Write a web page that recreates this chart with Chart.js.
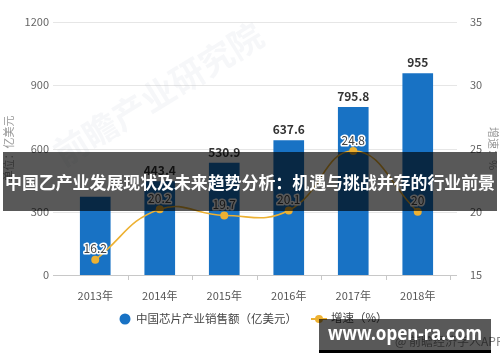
<!DOCTYPE html>
<html>
<head>
<meta charset="utf-8">
<script src="https://cdn.jsdelivr.net/npm/chart.js@4.4.1/dist/chart.umd.min.js"></script>
<style>
html, body { margin: 0; padding: 0; background: #fff; }
#wrap { width: 500px; height: 362px; position: relative; }
</style>
</head>
<body>
<div id="wrap"><canvas id="grafica"></canvas></div>
<script>
// datos de la grafica
const anios = ['2013年', '2014年', '2015年', '2016年', '2017年', '2018年'];
const ventas = [369, 443.4, 530.9, 637.6, 795.8, 955];
const ventasEtiquetas = ['', '443.4', '530.9', '637.6', '795.8', '955'];
const crecimiento = [16.2, 20.2, 19.7, 20.1, 24.8, 20];
const ticksIzq = [0, 300, 600, 900, 1200];
const ticksDer = [15, 20, 25, 30, 35];
const titulo = '中国乙产业发展现状及未来趋势分析：机遇与挑战并存的行业前景';
const nombreVentas = '中国芯片产业销售额（亿美元）';
const nombreCrec = '增速（%）';

const azul = '#1872c4';
const oro = '#edb132';
const fuente = '"Noto Sans CJK SC", "Noto Sans", sans-serif';

Chart.defaults.font.family = fuente;
Chart.defaults.color = '#666';

const extras = {
    id: 'extras',
    beforeDatasetsDraw(chart) {
        const ctx = chart.ctx;
        const a = chart.chartArea;
        const y = chart.scales.y;
        ctx.save();
        // lineas horizontales
        ticksIzq.forEach(function(v) {
            const py = Math.round(y.getPixelForValue(v)) + 0.5;
            ctx.strokeStyle = v === 0 ? '#c8c8c8' : '#e6e6e6';
            ctx.lineWidth = 1;
            ctx.beginPath();
            ctx.moveTo(a.left - 10, py);
            ctx.lineTo(a.right + 7, py);
            ctx.stroke();
        });
        // marcas entre categorias
        const x = chart.scales.x;
        const paso = x.getPixelForValue(1) - x.getPixelForValue(0);
        ctx.strokeStyle = '#c8c8c8';
        for (let i = 1; i <= anios.length; i++) {
            const px = Math.round(x.getPixelForValue(i) - paso / 2) + 0.5;
            ctx.beginPath();
            ctx.moveTo(px, a.bottom);
            ctx.lineTo(px, a.bottom + 5);
            ctx.stroke();
        }
        // marca de agua tenue
        ctx.fillStyle = 'rgba(180,190,205,0.12)';
        ctx.font = 'bold 34px ' + fuente;
        ctx.translate(165, 105);
        ctx.rotate(-0.55);
        ctx.textAlign = 'center';
        ctx.fillText('前瞻产业研究院', 0, 0);
        ctx.restore();
    },
    afterDatasetsDraw(chart) {
        const ctx = chart.ctx;
        ctx.save();
        ctx.textAlign = 'center';
        ctx.textBaseline = 'middle';
        // etiquetas de barras
        const barras = chart.getDatasetMeta(0).data;
        ctx.font = 'bold 12px ' + fuente;
        ctx.fillStyle = '#333';
        barras.forEach(function(b, i) {
            if (ventasEtiquetas[i]) ctx.fillText(ventasEtiquetas[i], b.x, b.y - 11);
        });
        // etiquetas de la linea
        const puntos = chart.getDatasetMeta(1).data;
        ctx.font = '12px ' + fuente;
        ctx.lineWidth = 3;
        ctx.strokeStyle = '#fff';
        ctx.lineJoin = 'round';
        puntos.forEach(function(p, i) {
            const t = String(crecimiento[i]);
            ctx.strokeText(t, p.x, p.y - 11);
            ctx.fillStyle = '#444';
            ctx.fillText(t, p.x, p.y - 11);
        });
        ctx.restore();
    },
    afterDraw(chart) {
        const ctx = chart.ctx;
        ctx.save();
        // leyenda
        ctx.textBaseline = 'middle';
        ctx.font = '11.5px ' + fuente;
        ctx.fillStyle = azul;
        ctx.beginPath();
        ctx.arc(125, 319, 5.5, 0, Math.PI * 2);
        ctx.fill();
        ctx.fillStyle = '#444';
        ctx.fillText(nombreVentas, 136, 319);
        ctx.strokeStyle = oro;
        ctx.lineWidth = 2;
        ctx.beginPath();
        ctx.moveTo(311, 319);
        ctx.lineTo(327, 319);
        ctx.stroke();
        ctx.fillStyle = oro;
        ctx.beginPath();
        ctx.arc(319, 319, 4, 0, Math.PI * 2);
        ctx.fill();
        ctx.fillStyle = '#444';
        ctx.fillText(nombreCrec, 331, 318);
        // fuente original detras del sello
        ctx.fillStyle = '#888';
        ctx.font = '12px ' + fuente;
        ctx.fillText('@ 前瞻经济学人APP', 395, 341);
        // banda del titulo
        ctx.fillStyle = 'rgba(0,0,0,0.65)';
        ctx.fillRect(3, 152, 494, 59);
        ctx.fillStyle = '#fff';
        ctx.font = 'bold 17px ' + fuente;
        ctx.textAlign = 'center';
        ctx.fillText(titulo, 250, 183, 490);
        // sello del sitio
        ctx.fillStyle = 'rgba(0,0,0,0.65)';
        ctx.fillRect(319, 319, 172, 32);
        ctx.fillStyle = '#000';
        ctx.fillRect(319, 350, 172, 3);
        ctx.fillStyle = '#fff';
        ctx.font = 'bold 19px "Noto Sans", sans-serif';
        ctx.fillText('www.open-ra.com', 405, 335, 154);
        ctx.restore();
    }
};

new Chart(document.getElementById('grafica'), {
    type: 'bar',
    data: {
        labels: anios,
        datasets: [{
            label: nombreVentas,
            data: ventas,
            backgroundColor: azul,
            barThickness: 30,
            yAxisID: 'y',
            order: 1
        }, {
            type: 'line',
            label: nombreCrec,
            data: crecimiento,
            borderColor: oro,
            backgroundColor: oro,
            borderWidth: 1.6,
            pointRadius: 4,
            pointBorderWidth: 0,
            tension: 0.45,
            yAxisID: 'y1',
            order: 0
        }]
    },
    options: {
        responsive: true,
        maintainAspectRatio: false,
        animation: false,
        layout: { padding: { top: 22, left: 0, right: 0, bottom: 0 } },
        plugins: { legend: { display: false }, tooltip: { enabled: false } },
        scales: {
            x: {
                grid: { display: false },
                border: { display: false },
                ticks: { font: { size: 11 }, color: '#555', padding: 6 },
                afterFit: function(s) { s.height = 87; }
            },
            y: {
                position: 'left',
                min: 0, max: 1200,
                afterBuildTicks: function(s) { s.ticks = ticksIzq.map(v => ({ value: v })); },
                grid: { display: false },
                border: { display: false },
                ticks: { font: { size: 11 }, color: '#666', padding: 6, callback: v => String(v) },
                title: { display: true, text: '单位：亿美元', color: '#999', font: { size: 11 }, padding: 2 },
                afterFit: function(s) { s.width = 63; }
            },
            y1: {
                position: 'right',
                min: 15, max: 35,
                afterBuildTicks: function(s) { s.ticks = ticksDer.map(v => ({ value: v })); },
                grid: { display: false },
                border: { display: false },
                ticks: { font: { size: 11 }, color: '#666', padding: 12, callback: v => String(v) },
                title: { display: true, text: '增速：%', color: '#999', font: { size: 11 }, padding: 0 },
                afterFit: function(s) { s.width = 50; }
            }
        }
    },
    plugins: [extras]
});
</script>
</body>
</html>
